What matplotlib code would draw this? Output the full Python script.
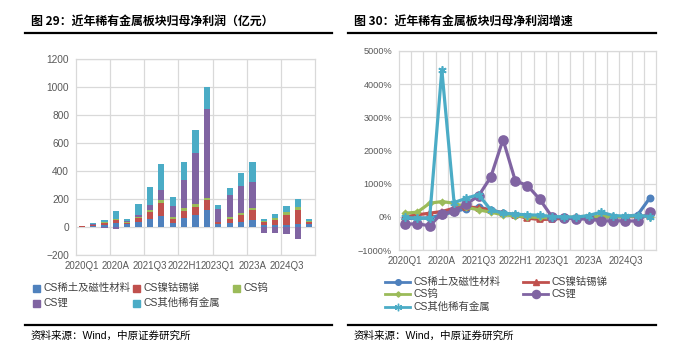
"""
稀有金属板块归母净利润及增速 (图 29 / 图 30)
"""
import numpy as np
import matplotlib
matplotlib.use('Agg')
import matplotlib.pyplot as plt
from matplotlib.lines import Line2D
from matplotlib.patches import Rectangle

plt.rcParams['font.family'] = ['Liberation Sans', 'Noto Sans CJK SC']
plt.rcParams['axes.unicode_minus'] = True

# ---- 数据 ----
periods = ['2020Q1', '2020H1', '2020Q3', '2020A', '2021Q1', '2021H1', '2021Q3',
           '2021A', '2022Q1', '2022H1', '2022Q3', '2022A', '2023Q1', '2023H1',
           '2023Q3', '2023A', '2024Q1', '2024H1', '2024Q3', '2024A', '2025Q1']
series_names = ['CS稀土及磁性材料', 'CS镍钴锡锑', 'CS钨', 'CS锂', 'CS其他稀有金属']

# 归母净利润（亿元）
profit_rare_earth = [3, 10, 15, 30, 20, 35, 55, 81, 31, 64, 86, 121, 19, 26, 38, 52, 15, 12, 14, 24, 19]
profit_nickel = [1, 5, 15, 20, 10, 30, 52, 88, 29, 48, 59, 72, 14, 32, 48, 72, 20, 38, 72, 95, 19]
profit_tungsten = [1, 2, 3, 5, 5, 8, 14, 24, 14, 21, 17, 14, 5, 12, 16, 12, 5, 12, 18, 24, 5]
profit_lithium = [-2, 1, -10, -15, 5, 12, 34, 71, 74, 200, 364, 633, 91, 157, 193, 184, -40, -45, -50, -86, -3]
profit_other = [2, 10, 17, 62, 20, 77, 128, 186, 64, 131, 167, 160, 26, 53, 88, 143, 15, 33, 47, 60, 14]

# 归母净利润增速（%）
growth_rare_earth = [-50, -40, -30, 60, 150, 250, 300, 200, 120, 60, 0, -30, -40, -40, -30, -20, -10, 0, 10, 60, 570]
growth_nickel = [0, 60, 110, 160, 260, 310, 260, 210, 110, 50, -40, -80, -70, -40, -20, -10, 0, 10, 0, 10, 20]
growth_tungsten = [110, 140, 410, 460, 410, 290, 210, 140, 60, 30, 0, -20, -30, -20, 0, 20, 10, 0, 10, 30, 10]
growth_lithium = [-220, -210, -270, 100, 170, 390, 630, 1200, 2330, 1090, 940, 530, 0, -30, -60, -70, -120, -120, -120, -130, 140]
growth_other = [-20, -40, -50, 4430, 430, 560, 670, 210, 110, 80, 60, 50, 10, 0, -10, 40, 140, 40, 20, 40, 10]

tick_step = 3
COLORS = ['#4F81BD', '#C0504D', '#9BBB59', '#8064A2', '#4BACC6']
GRID = '#D9D9D9'
TICK_COLOR = '#595959'

fig = plt.figure(figsize=(7.0, 3.47), dpi=100)

# ---- 标题、分隔线、来源 ----
def px(x, y):
    return x / 700, 1 - y / 347

for x0, x1, title in [(25, 332, '图 29：近年稀有金属板块归母净利润（亿元）'),
                      (348, 656, '图 30：近年稀有金属板块归母净利润增速')]:
    tx, ty = px(x0 + 6, 21)
    fig.text(tx, ty, title, fontsize=8.6, fontweight='bold', va='center', ha='left',
             family=['Noto Sans CJK SC'])
    for yy in (33, 325):
        fig.add_artist(Line2D([x0 / 700, x1 / 700], [1 - yy / 347] * 2,
                              color='black', lw=1.6, transform=fig.transFigure))
    sx, sy = px(x0 + 6, 336)
    fig.text(sx, sy, '资料来源：Wind，中原证券研究所', fontsize=7.6, va='center', ha='left')

x = np.arange(len(periods))

# ---- 图 29：堆叠柱状图 ----
ax1 = fig.add_axes([76 / 700, 1 - 255 / 347, (315 - 76) / 700, (255 - 59) / 347])
profits = [profit_rare_earth, profit_nickel, profit_tungsten, profit_lithium, profit_other]
pos_base = np.zeros(len(periods))
neg_base = np.zeros(len(periods))
for vals, color, name in zip(profits, COLORS, series_names):
    vals = np.array(vals, dtype=float)
    bottom = np.where(vals >= 0, pos_base, neg_base)
    ax1.bar(x, vals, bottom=bottom, width=0.55, color=color, label=name, zorder=3)
    pos_base = pos_base + np.clip(vals, 0, None)
    neg_base = neg_base + np.clip(vals, None, 0)

ax1.set_ylim(-200, 1200)
ax1.set_yticks(np.arange(-200, 1201, 200))
ax1.set_xlim(-0.5, len(periods) - 0.5)
ax1.set_xticks(x[::tick_step])
ax1.set_xticklabels(periods[::tick_step])
for b in np.arange(tick_step - 0.5, len(periods) - 1, tick_step):
    ax1.axvline(b, color=GRID, lw=0.9, zorder=0)
ax1.yaxis.grid(True, color=GRID, lw=0.9, zorder=0)
ax1.set_axisbelow(True)

# 图例（手动排布）
leg_pos = [(33, 288), (133, 288), (233, 288), (33, 303), (133, 303)]
for (lx, ly), color, name in zip(leg_pos, COLORS, series_names):
    fx, fy = px(lx, ly)
    fig.add_artist(Rectangle((fx, fy - 3.5 / 347), 7 / 700, 7 / 347, color=color,
                             transform=fig.transFigure))
    fig.text(fx + 10 / 700, fy, name, fontsize=7.5, va='center', ha='left', color='#404040')

# ---- 图 30：折线图 ----
ax2 = fig.add_axes([399 / 700, 1 - 250 / 347, (656 - 399) / 700, (250 - 51) / 347])
growths = [growth_rare_earth, growth_nickel, growth_tungsten, growth_lithium, growth_other]
markers = ['o', '^', 'D', 'o', (6, 2, 0)]
msizes = [4.5, 4.5, 3, 6.5, 6]
handles = []
for i, (vals, color, name, mk, ms) in enumerate(zip(growths, COLORS, series_names, markers, msizes)):
    h, = ax2.plot(x, vals, color=color, lw=2.3, marker=mk, markersize=ms,
                  markeredgecolor=color, markeredgewidth=1.2, label=name,
                  zorder=3 + i, clip_on=True)
    handles.append(h)

ax2.set_ylim(-1000, 5000)
ax2.set_yticks(np.arange(-1000, 5001, 1000))
ax2.set_yticklabels([f'{v}%'.replace('-', '\u2212') for v in range(-1000, 5001, 1000)])
ax2.set_xlim(-0.5, len(periods) - 0.5)
ax2.set_xticks(x[::tick_step])
ax2.set_xticklabels(periods[::tick_step])
for b in np.arange(0.5, len(periods) - 1, 1):
    ax2.axvline(b, color=GRID, lw=0.9, zorder=0)
ax2.yaxis.grid(True, color=GRID, lw=0.9, zorder=0)
ax2.set_axisbelow(True)

leg_pos2 = [(385, 282), (523, 282), (385, 294), (523, 294), (385, 307)]
for (lx, ly), color, name, mk, ms in zip(leg_pos2, COLORS, series_names, markers, msizes):
    fx, fy = px(lx, ly)
    fig.add_artist(Line2D([fx, fx + 25 / 700], [fy, fy], color=color, lw=2.0,
                          transform=fig.transFigure))
    fig.add_artist(Line2D([fx + 12.5 / 700], [fy], color=color, marker=mk,
                          markersize=ms * 0.9, markeredgecolor=color,
                          transform=fig.transFigure))
    fig.text(fx + 29 / 700, fy, name, fontsize=7.5, va='center', ha='left', color='#404040')

# ---- 坐标轴样式 ----
for ax, ysize in ((ax1, 7.3), (ax2, 6.6)):
    for sp in ax.spines.values():
        sp.set_color(GRID)
        sp.set_linewidth(0.9)
    ax.tick_params(axis='both', length=0, colors=TICK_COLOR)
    ax.tick_params(axis='y', labelsize=ysize, pad=5)
    ax.tick_params(axis='x', labelsize=7, pad=4)

fig.savefig('out.png', dpi=100)
plt.close(fig)
